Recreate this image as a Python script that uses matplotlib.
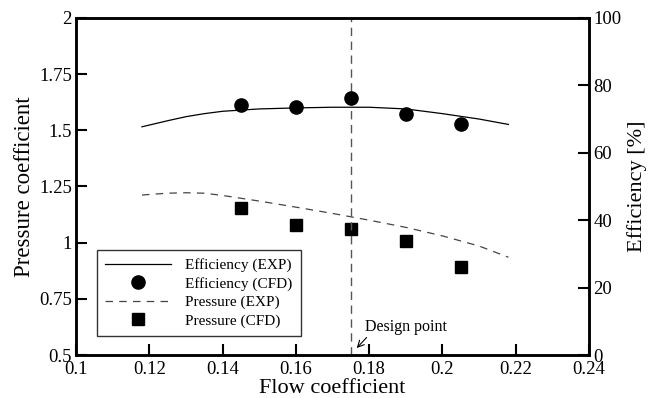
import numpy as np
import matplotlib.pyplot as plt

plt.rcParams['font.family'] = ['Liberation Serif', 'DejaVu Serif']

# experimental curves
eff_exp_x = [0.118, 0.125, 0.13, 0.135, 0.14, 0.15, 0.16, 0.17, 0.18, 0.19, 0.20, 0.21, 0.218]
eff_exp_y = [67.7, 69.5, 70.7, 71.6, 72.3, 73.0, 73.3, 73.5, 73.5, 73.0, 71.6, 70.0, 68.4]
pres_exp_x = [0.118, 0.125, 0.13, 0.135, 0.14, 0.15, 0.16, 0.17, 0.175, 0.18, 0.19, 0.20, 0.21, 0.218]
pres_exp_y = [1.212, 1.220, 1.222, 1.220, 1.210, 1.185, 1.158, 1.130, 1.115, 1.100, 1.068, 1.030, 0.985, 0.935]

# CFD points
cfd_x = [0.145, 0.16, 0.175, 0.19, 0.205]
eff_cfd = [74.2, 73.7, 76.2, 71.4, 68.5]
pres_cfd = [1.153, 1.079, 1.059, 1.009, 0.890]

design_x = 0.175

fig = plt.figure(figsize=(6.48, 3.98), dpi=100)
ax = fig.add_axes([0.1173, 0.108, 0.7917, 0.847])
ax2 = ax.twinx()

l1, = ax2.plot(eff_exp_x, eff_exp_y, '-', color='black', lw=0.9, label='Efficiency (EXP)')
l2, = ax2.plot(cfd_x, eff_cfd, 'o', color='black', ms=9.5, label='Efficiency (CFD)')
l3, = ax.plot(pres_exp_x, pres_exp_y, '--', color='#444444', lw=0.9, dashes=(6, 5),
              label='Pressure (EXP)')
l4, = ax.plot(cfd_x, pres_cfd, 's', color='black', ms=8.5, label='Pressure (CFD)')
ax.axvline(design_x, color='#555555', lw=1.0, ls='--', dashes=(6, 4))

ax.annotate('Design point', xy=(0.1766, 0.531), xytext=(0.1789, 0.626),
            fontsize=11.5, va='center', ha='left',
            arrowprops=dict(arrowstyle='->', color='black', lw=0.8,
                            shrinkA=0, shrinkB=0,
                            relpos=(0.05, 0.0)))

ax.set_xlim(0.1, 0.24)
ax.set_ylim(0.5, 2.0)
ax2.set_ylim(0, 100)
ax.set_xticks(np.arange(0.1, 0.2401, 0.02))
ax.set_xticklabels(['0.1', '0.12', '0.14', '0.16', '0.18', '0.2', '0.22', '0.24'])
ax.set_yticks([0.5, 0.75, 1.0, 1.25, 1.5, 1.75, 2.0])
ax.set_yticklabels(['0.5', '0.75', '1', '1.25', '1.5', '1.75', '2'])
ax2.set_yticks([0, 20, 40, 60, 80, 100])

for a in (ax, ax2):
    a.tick_params(direction='in', length=8, width=1.5, labelsize=13.5, pad=3)
    for s in a.spines.values():
        s.set_linewidth(1.8)
ax.tick_params(axis='x', pad=4)

ax.set_xlabel('Flow coefficient', fontsize=16, labelpad=1)
ax.set_ylabel('Pressure coefficient', fontsize=16.5, labelpad=3)
ax2.set_ylabel('Efficiency [%]', fontsize=16, labelpad=4)

leg = ax.legend(handles=[l1, l2, l3, l4], loc='lower left',
                bbox_to_anchor=(0.041, 0.056), borderaxespad=0,
                fontsize=11, handlelength=4.3, frameon=True, fancybox=False,
                edgecolor='black', labelspacing=0.3, borderpad=0.55,
                handletextpad=0.9)
leg.get_frame().set_linewidth(1.0)
leg.set_zorder(5)

fig.savefig('out.png', dpi=100)
